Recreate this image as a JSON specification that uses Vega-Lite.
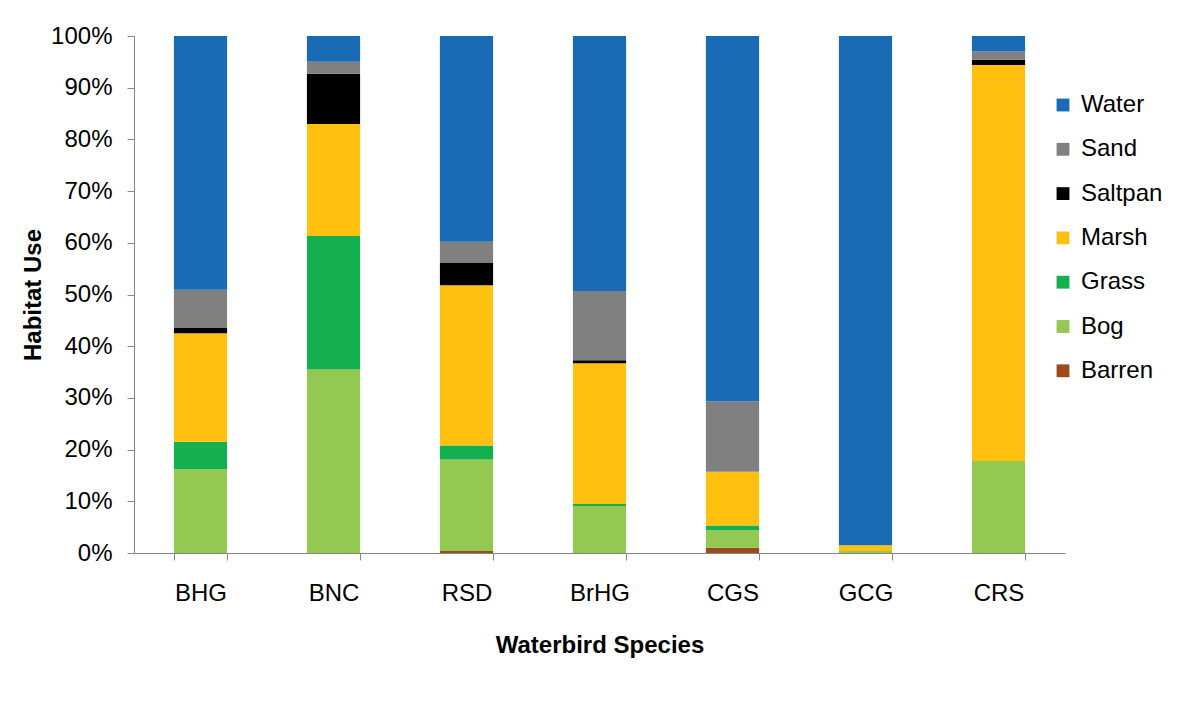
{
  "$schema": "https://vega.github.io/schema/vega-lite/v6.json",
  "width": 931,
  "height": 517,
  "autosize": {"type": "none"},
  "padding": {"left": 134, "top": 36, "right": 125, "bottom": 149},
  "background": "white",
  "config": {
    "view": {"stroke": null},
    "font": "Liberation Sans",
    "axis": {"labelFont": "Liberation Sans", "titleFont": "Liberation Sans", "labelColor": "#000000", "titleColor": "#000000", "domainColor": "#868686", "tickColor": "#868686", "grid": false},
    "legend": {"labelFont": "Liberation Sans"}
  },
  "data": {
    "values": [
      {"species": "BHG", "habitat": "Bog", "value": 16.2},
      {"species": "BHG", "habitat": "Grass", "value": 5.3},
      {"species": "BHG", "habitat": "Marsh", "value": 21.0},
      {"species": "BHG", "habitat": "Saltpan", "value": 1.0},
      {"species": "BHG", "habitat": "Sand", "value": 7.4},
      {"species": "BHG", "habitat": "Water", "value": 49.1},
      {"species": "BNC", "habitat": "Bog", "value": 35.5},
      {"species": "BNC", "habitat": "Grass", "value": 25.8},
      {"species": "BNC", "habitat": "Marsh", "value": 21.7},
      {"species": "BNC", "habitat": "Saltpan", "value": 9.7},
      {"species": "BNC", "habitat": "Sand", "value": 2.3},
      {"species": "BNC", "habitat": "Water", "value": 5.0},
      {"species": "RSD", "habitat": "Barren", "value": 0.4},
      {"species": "RSD", "habitat": "Bog", "value": 17.7},
      {"species": "RSD", "habitat": "Grass", "value": 2.7},
      {"species": "RSD", "habitat": "Marsh", "value": 31.0},
      {"species": "RSD", "habitat": "Saltpan", "value": 4.3},
      {"species": "RSD", "habitat": "Sand", "value": 4.1},
      {"species": "RSD", "habitat": "Water", "value": 39.8},
      {"species": "BrHG", "habitat": "Bog", "value": 9.1},
      {"species": "BrHG", "habitat": "Grass", "value": 0.4},
      {"species": "BrHG", "habitat": "Marsh", "value": 27.2},
      {"species": "BrHG", "habitat": "Saltpan", "value": 0.6},
      {"species": "BrHG", "habitat": "Sand", "value": 13.4},
      {"species": "BrHG", "habitat": "Water", "value": 49.3},
      {"species": "CGS", "habitat": "Barren", "value": 1.0},
      {"species": "CGS", "habitat": "Bog", "value": 3.4},
      {"species": "CGS", "habitat": "Grass", "value": 0.9},
      {"species": "CGS", "habitat": "Marsh", "value": 10.4},
      {"species": "CGS", "habitat": "Sand", "value": 13.6},
      {"species": "CGS", "habitat": "Water", "value": 70.7},
      {"species": "GCG", "habitat": "Bog", "value": 0.4},
      {"species": "GCG", "habitat": "Marsh", "value": 1.1},
      {"species": "GCG", "habitat": "Water", "value": 98.5},
      {"species": "CRS", "habitat": "Bog", "value": 17.8},
      {"species": "CRS", "habitat": "Marsh", "value": 76.6},
      {"species": "CRS", "habitat": "Saltpan", "value": 1.0},
      {"species": "CRS", "habitat": "Sand", "value": 1.6},
      {"species": "CRS", "habitat": "Water", "value": 3.0}
    ]
  },
  "transform": [
    {"calculate": "indexof(['Barren','Bog','Grass','Marsh','Saltpan','Sand','Water'], datum.habitat)", "as": "stackOrder"}
  ],
  "mark": {"type": "bar"},
  "encoding": {
    "x": {
      "field": "species",
      "type": "nominal",
      "sort": ["BHG", "BNC", "RSD", "BrHG", "CGS", "GCG", "CRS"],
      "scale": {"paddingInner": 0.6, "paddingOuter": 0.3},
      "axis": {
        "title": "Waterbird Species",
        "labelAngle": 0,
        "labelFontSize": 24,
        "tickSize": 7,
        "tickBand": "extent",
        "labelPadding": 21,
        "titleFontSize": 24,
        "titleFontWeight": "bold",
        "titleBaseline": "middle",
        "titleY": 92
      }
    },
    "y": {
      "field": "value",
      "type": "quantitative",
      "stack": "normalize",
      "scale": {"domain": [0, 1]},
      "axis": {
        "title": "Habitat Use",
        "format": ".0%",
        "values": [0, 0.1, 0.2, 0.3, 0.4, 0.5, 0.6, 0.7, 0.8, 0.9, 1],
        "labelFontSize": 24,
        "tickSize": 7,
        "labelPadding": 15,
        "titleFontSize": 24,
        "titleFontWeight": "bold",
        "titleBaseline": "middle",
        "titleX": -101
      }
    },
    "color": {
      "field": "habitat",
      "type": "nominal",
      "scale": {
        "domain": ["Water", "Sand", "Saltpan", "Marsh", "Grass", "Bog", "Barren"],
        "range": ["#1A6BB5", "#808080", "#000000", "#FFC00F", "#14AF4F", "#93C853", "#9C4A1E"]
      },
      "legend": {
        "title": null,
        "orient": "none",
        "legendX": 917,
        "legendY": 57,
        "symbolType": "square",
        "symbolSize": 165,
        "symbolStrokeWidth": 0,
        "labelFontSize": 24,
        "labelColor": "#000000",
        "labelOffset": 6,
        "rowPadding": 20.3,
        "labelLimit": 200
      }
    },
    "order": {"field": "stackOrder", "type": "quantitative"}
  }
}
